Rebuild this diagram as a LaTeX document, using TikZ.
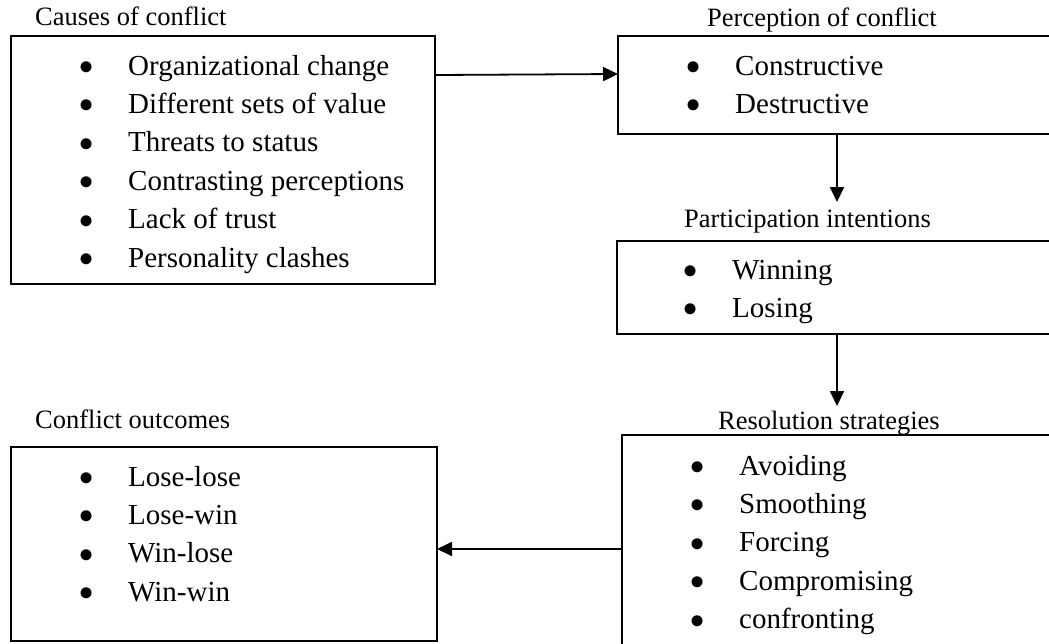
\documentclass[tikz,border=0pt]{standalone}
\usepackage{fontspec}
\setmainfont{Liberation Serif}
\usetikzlibrary{arrows.meta}
\newcommand{\bul}{\makebox[47pt][l]{\hspace*{-3pt}\smash{\raisebox{-7.4pt}{\fontsize{46}{46}\selectfont\textbullet}}}}
\begin{document}
\begin{tikzpicture}[x=1pt,y=-1pt,
  box/.style={draw, line width=1.6pt, inner sep=0pt, outer sep=0pt, anchor=north west},
  ttl/.style={inner sep=0pt, anchor=base west, font=\fontsize{26.5}{30}\selectfont},
  lst/.style={inner sep=0pt, anchor=base west, font=\fontsize{29}{38.4}\selectfont},
  arr/.style={line width=1.8pt, -{Triangle[length=15pt,width=14pt]}}]
\useasboundingbox (0,0) rectangle (1049,643);
\clip (0,0) rectangle (1049,643);

% boxes
\node[box, minimum width=424pt, minimum height=248pt] (b1) at (11,36) {};
\node[box, minimum width=470pt, minimum height=98pt]  (b2) at (618,36) {};
\node[box, minimum width=470pt, minimum height=93pt]  (b3) at (617,241) {};
\node[box, minimum width=470pt, minimum height=260pt] (b4) at (622,435) {};
\node[box, minimum width=426pt, minimum height=194pt] (b5) at (11,447) {};

% titles
\node[ttl] (t1) at (35,25)  {Causes of conflict};
\node[ttl] (t2) at (707,26) {Perception of conflict};
\node[ttl] (t3) at (684,227) {Participation intentions};
\node[ttl] (t4) at (718,429) {Resolution strategies};
\node[ttl] (t5) at (35,428) {Conflict outcomes};

% lists
\node[lst] (l1) at (81,75) {\begin{tabular}[t]{@{}l@{}}
\bul Organizational change\\
\bul Different sets of value\\
\bul Threats to status\\
\bul Contrasting perceptions\\
\bul Lack of trust\\
\bul Personality clashes
\end{tabular}};
\node[lst] (l2) at (688,75) {\begin{tabular}[t]{@{}l@{}}
\bul Constructive\\
\bul Destructive
\end{tabular}};
\node[lst] (l3) at (685,279) {\begin{tabular}[t]{@{}l@{}}
\bul Winning\\
\bul Losing
\end{tabular}};
\node[lst] (l4) at (692,475) {\begin{tabular}[t]{@{}l@{}}
\bul Avoiding\\
\bul Smoothing\\
\bul Forcing\\
\bul Compromising\\
\bul confronting
\end{tabular}};
\node[lst] (l5) at (81,486) {\begin{tabular}[t]{@{}l@{}}
\bul Lose-lose\\
\bul Lose-win\\
\bul Win-lose\\
\bul Win-win
\end{tabular}};

% connectors
\coordinate (a2) at (837,202);
\coordinate (a3) at (837,406);
\draw[arr] ([yshift=-39pt]b1.north east) -- ([yshift=-38pt]b2.north west);
\draw[arr] (b2.south -| a2) -- (a2);
\draw[arr] (b3.south -| a3) -- (a3);
\draw[arr] ([yshift=-114pt]b4.north west) -- ([yshift=-102pt]b5.north east);
\end{tikzpicture}
\end{document}
